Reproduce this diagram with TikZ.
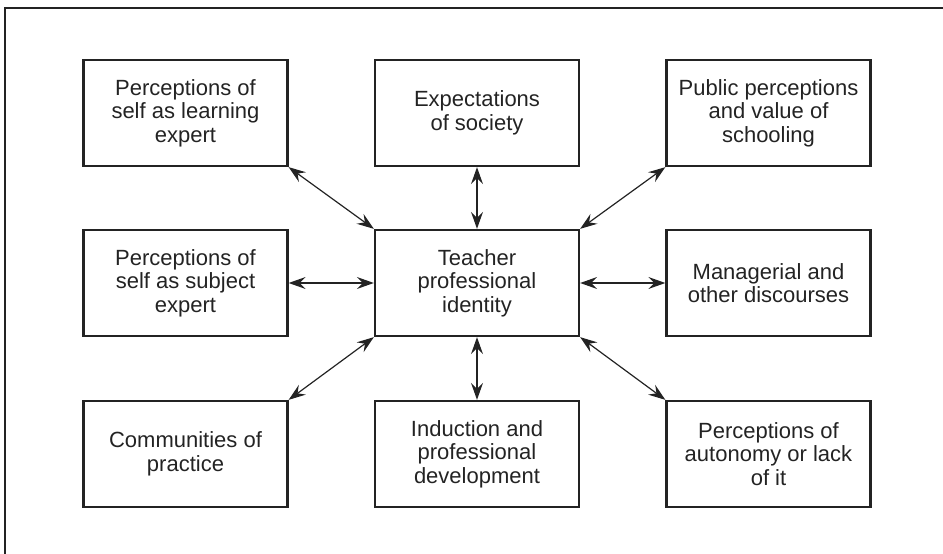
\documentclass[tikz,border=0pt]{standalone}
\usepackage{fontspec}
\setmainfont{Liberation Sans}
\usetikzlibrary{arrows.meta}
\definecolor{ink}{HTML}{232323}

\begin{document}
\begin{tikzpicture}[x=1pt,y=1pt,>={Stealth[length=17pt,width=12pt,inset=6pt]},
    box/.style={draw=ink,line width=2.3pt,text=ink,minimum width=204pt,minimum height=106pt,inner sep=0pt,align=center,font=\fontsize{22}{23.5}\selectfont},
    link/.style={<->,draw=ink,line width=1.2pt}]
    \useasboundingbox(0,0)rectangle(943,554);
    \newcommand{\CL}{185.5}
    \newcommand{\CM}{477}
    \newcommand{\CR}{768.5}
    \draw[ink,line width=1.5pt](943,546)--(5,546)--(5,0);
    \node[box](T)at(\CM,271){Teacher\\professional\\identity};
    \node[box](NW)at(\CL,441){Perceptions of\\self as learning\\expert};
    \node[box](N)at(\CM,441){Expectations\\of society};
    \node[box](NE)at(\CR,441){Public perceptions\\and value of\\schooling};
    \node[box](W)at(\CL,271){Perceptions of\\self as subject\\expert};
    \node[box](E)at(\CR,271){Managerial and\\other discourses};
    \node[box](SW)at(\CL,100){Communities of\\practice};
    \node[box](S)at(\CM,100){Induction and\\professional\\development};
    \node[box](SE)at(\CR,100){Perceptions of\\autonomy or lack\\of it};
    \draw[link](NW.south east)--(T.north west);
    \draw[link](N.south)--(T.north);
    \draw[link](NE.south west)--(T.north east);
    \draw[link](W.east)--(T.west);
    \draw[link](E.west)--(T.east);
    \draw[link](SW.north east)--(T.south west);
    \draw[link](S.north)--(T.south);
    \draw[link](SE.north west)--(T.south east);
\end{tikzpicture}
\end{document}
